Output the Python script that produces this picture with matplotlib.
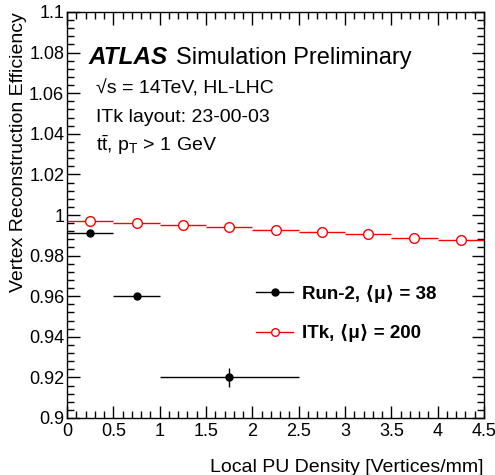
import matplotlib
matplotlib.use("Agg")
from matplotlib import pyplot as plt
from matplotlib.ticker import MultipleLocator, FuncFormatter
from matplotlib.lines import Line2D

plt.rcParams['font.family'] = ['Liberation Sans', 'DejaVu Sans']
plt.rcParams['mathtext.fontset'] = 'custom'
plt.rcParams['mathtext.rm'] = 'Liberation Sans'
plt.rcParams['mathtext.it'] = 'Liberation Sans:italic'

# Run-2, <mu> = 38
run2_x = [0.25, 0.75, 1.75]
run2_xerr = [0.25, 0.25, 0.75]
run2_y = [0.9912, 0.9600, 0.9200]
run2_yerr = [0.0005, 0.0008, 0.0045]

# ITk, <mu> = 200
itk_x = [0.25, 0.75, 1.25, 1.75, 2.25, 2.75, 3.25, 3.75, 4.25]
itk_y = [0.9972, 0.9962, 0.9952, 0.9940, 0.9928, 0.9918, 0.9905, 0.9886, 0.9876]

W, H = 495, 475
fig = plt.figure(figsize=(W / 100, H / 100), dpi=100)
ax = fig.add_axes([67 / W, 1 - 418 / H, (484 - 67) / W, (418 - 12) / H])


def fx(px):
    return px / W


def fy(py):
    return 1 - py / H


ax.errorbar(itk_x, itk_y, xerr=0.25, fmt='o', color='red', mfc='white', mec='red',
            ms=7, mew=1.0, lw=1.0, capsize=0, zorder=3)
ax.errorbar(run2_x, run2_y, xerr=run2_xerr, yerr=run2_yerr, fmt='o', color='black',
            ms=5, lw=1.0, capsize=0, zorder=4)

ax.set_xlim(0, 4.5)
ax.set_ylim(0.9, 1.1)
ax.xaxis.set_major_locator(MultipleLocator(0.5))
ax.xaxis.set_minor_locator(MultipleLocator(0.1))
ax.yaxis.set_major_locator(MultipleLocator(0.02))
ax.yaxis.set_minor_locator(MultipleLocator(0.004))
fmt = FuncFormatter(lambda v, p: '%g' % round(v, 3))
ax.xaxis.set_major_formatter(fmt)
ax.yaxis.set_major_formatter(fmt)
ax.tick_params(which='both', direction='in', top=True, right=True, labelsize=13)
ax.tick_params(which='major', length=9, width=1)
ax.tick_params(which='minor', length=5, width=1)
ax.tick_params(axis='y', pad=2)
for s in ax.spines.values():
    s.set_linewidth(1.0)

ax.set_xlabel('Local PU Density [Vertices/mm]', fontsize=14, loc='right', labelpad=14)
ax.set_ylabel('Vertex Reconstruction Efficiency', fontsize=14, loc='top')
ax.yaxis.set_label_coords((27 - 67) / 417, 1.0)

handles = [
    Line2D([], [], color='black', marker='o', ms=5, lw=1.0),
    Line2D([], [], color='red', marker='o', ms=5.5, mfc='white', mec='red', mew=1.0, lw=1.0),
]
labels = ['Run-2, ⟨μ⟩ = 38', 'ITk, ⟨μ⟩ = 200']
ax.legend(handles, labels, loc='upper left',
          bbox_to_anchor=(fx(239), fy(268)), bbox_transform=fig.transFigure,
          frameon=False, handlelength=2.0, handletextpad=0.45, labelspacing=1.15,
          prop={'size': 13.5, 'weight': 'bold'})

fig.text(fx(89), fy(64), 'ATLAS', fontsize=17.5, fontweight='bold', fontstyle='italic', va='baseline')
fig.text(fx(176), fy(64), 'Simulation Preliminary', fontsize=17, va='baseline')
fig.text(fx(96), fy(94), '√s = 14TeV, HL-LHC', fontsize=14, va='baseline')
fig.text(fx(96), fy(122), 'ITk layout: 23-00-03', fontsize=14, va='baseline')
fig.text(fx(96), fy(151), r'$\mathrm{t\bar{t}}$, p$_{\mathrm{T}}$ > 1 GeV', fontsize=14, va='baseline')

fig.savefig('out.png', dpi=100)
